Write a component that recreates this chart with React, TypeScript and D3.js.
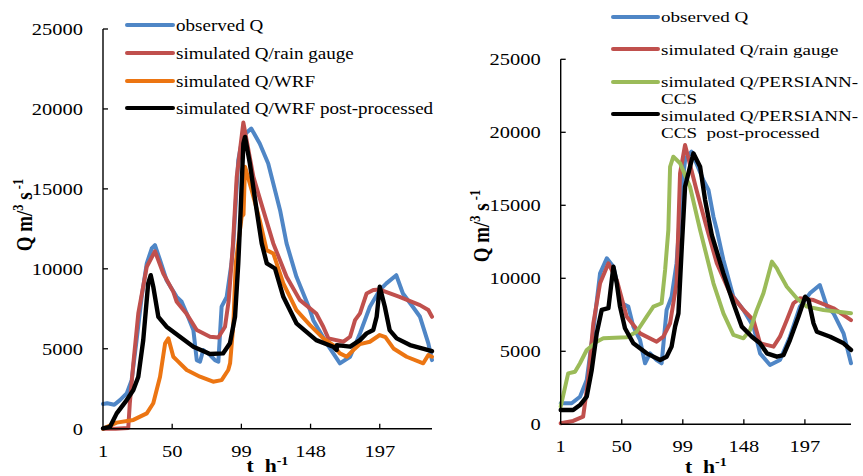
import React from "react";
import * as d3 from "d3";

type Pt = [number, number];

const xTicks = [1, 50, 99, 148, 197];
const yTicks = [0, 5000, 10000, 15000, 20000, 25000];

// ---- Left panel (WRF) ----
const leftObserved: Pt[] = [
  [1, 1550], [4, 1590], [9, 1500], [13, 1790], [17.8, 2210], [21.3, 3040], [24.8, 5540], [28.4, 8250],
  [32, 10340], [35.5, 11270], [37.8, 11480], [41.4, 10540], [46, 9290], [53.2, 8250], [56.7, 7940],
  [60.3, 7210], [65, 6170], [67.4, 4290], [69.7, 4190], [72, 4920], [76.8, 4610], [80.3, 4290],
  [82.7, 4190], [85, 7630], [88.6, 8250], [92, 10340], [93.3, 11600], [96.8, 16800], [100, 18300],
  [106, 18770], [112, 17840], [118, 16590], [122, 15200], [126.4, 13670], [131, 11590], [138, 9500],
  [147.6, 7420], [149.9, 6790], [159.4, 5340], [168.8, 4090], [176, 4500], [183, 5960], [190, 7630],
  [197, 8670], [201.7, 9090], [208.7, 9600], [213.4, 8460], [220.4, 7630], [225.5, 7000], [231.4, 5340],
  [234, 4290],
];
const leftGauge: Pt[] = [
  [1, 0], [10, 0], [18.9, 50], [20, 1600], [22.5, 4090], [26, 7210], [32, 10130], [37.8, 11100],
  [43.7, 9710], [50.8, 8560], [53.2, 7940], [60, 7210], [67.4, 6170], [76.8, 5750], [82.7, 5700],
  [87.4, 6380], [90, 8000], [93, 11500], [95.7, 15750], [100.4, 19150], [107.5, 15750], [114.5, 13670],
  [121.6, 11590], [131, 9500], [140.5, 8040], [152, 7210], [157, 6380], [160.6, 5650], [171.3, 5440],
  [176, 5750], [179.5, 6790], [183, 7210], [187.7, 8460], [192.4, 8670], [197, 8700], [211, 8250],
  [225.5, 7730], [231.4, 7420], [234, 7000],
];
const leftWRF: Pt[] = [
  [1, 0], [10.7, 380], [22.5, 550], [32, 960], [36.6, 1590], [41.4, 3250], [45, 5340], [47.3, 5650],
  [50.8, 4500], [53.2, 4290], [60.3, 3670], [69.7, 3250], [79, 2940], [85, 3040], [89.7, 3670],
  [91, 4090], [93.3, 6500], [95, 10340], [99.2, 13250], [100.5, 13400], [101.6, 16380], [106.3, 14920],
  [112, 13040], [116.9, 11170], [121.6, 10960], [128.7, 9090], [138, 7420], [147.6, 6480], [157, 5650],
  [164, 5230], [168.8, 4710], [173.6, 4500], [178.3, 4920], [183, 5290], [190, 5440], [197, 5860],
  [201, 5730], [206.7, 5020], [216, 4500], [227.8, 4090], [231.4, 4610], [234, 4500],
];
const leftWRFpp: Pt[] = [
  [1, 20], [6, 120], [10.7, 960], [17.8, 1790], [22.5, 2420], [26, 3250], [29.5, 5540], [33, 9090],
  [34.8, 9600], [36.6, 8880], [40.2, 7000], [46, 6380], [55.5, 5750], [65, 5130], [76.8, 4670],
  [86, 4710], [90.9, 5340], [94.5, 7000], [96.8, 10340], [98.5, 13670], [100.4, 17840], [101.6, 18250],
  [105, 16590], [109.8, 13670], [113.4, 11590], [117, 10340], [122.8, 10020], [128.7, 8250],
  [138, 6590], [152, 5540], [164, 5130], [166.5, 4920], [166.6, 5230], [176, 5130], [183, 5540],
  [187.7, 5960], [192.4, 6170], [194.8, 7000], [197, 8880], [200.6, 7630], [204, 6170], [209, 5650],
  [218.4, 5230], [234, 4850],
];

// ---- Right panel (PERSIANN-CCS) ----
const rightObserved: Pt[] = [
  [1, 1440], [9.8, 1440], [16.5, 1890], [21.9, 3030], [27.2, 6460], [32.6, 10340], [38, 11370],
  [43.3, 10800], [50, 8290], [55.3, 8060], [59.3, 6690], [64.7, 5770], [68.7, 4180], [72.7, 4860],
  [78, 4400], [82, 4180], [86, 7830], [90, 8740], [94, 11030], [98, 16000], [101, 18200], [106, 18670],
  [115.5, 16730], [119.6, 16050], [123.6, 14220], [126.3, 13310], [131.6, 11250], [139.6, 8740],
  [147.7, 7830], [155.7, 6690], [161, 4860], [169, 4060], [177, 4400], [185, 6000], [193, 8060],
  [201, 8970], [209, 9540], [214.7, 8060], [220, 7600], [228, 6230], [234, 4180],
];
const rightGauge: Pt[] = [
  [1, 70], [11, 230], [19, 520], [23, 3030], [27.2, 6920], [32.6, 9660], [39.3, 11030], [46, 9880],
  [54, 7370], [64.7, 6230], [78, 5660], [83.4, 6000], [88.8, 6920], [94, 9660], [96.8, 17190],
  [100.8, 19130], [110, 16050], [118, 13530], [126.3, 11030], [137, 8970], [147.7, 7830],
  [155.7, 7140], [161, 5550], [171.8, 5320], [177, 6000], [182.5, 7140], [187.8, 8290], [193, 8630],
  [203.9, 8510], [220, 7950], [234, 7140],
];
const rightPersiann: Pt[] = [
  [1, 1210], [7, 3490], [12.5, 3600], [16.5, 4180], [21.9, 5090], [29.9, 5660], [35.2, 5890],
  [54, 5960], [62, 6340], [70, 7370], [75.4, 8060], [82, 8290], [84.8, 10570], [87.4, 13310],
  [88.8, 17640], [91.4, 18330], [96.8, 17880], [104.8, 16270], [112.9, 13310], [118.3, 11480],
  [123.6, 9660], [131.6, 7600], [139.6, 6120], [147.7, 5890], [153, 6460], [158.4, 7830],
  [163.7, 8970], [170.5, 11140], [174.5, 10680], [176.5, 10340], [182.5, 9420], [190.5, 8630],
  [198.6, 8060], [211.9, 7830], [234, 7600],
];
const rightPersiannPP: Pt[] = [
  [1, 980], [11, 980], [16.5, 1320], [21.9, 1890], [25.9, 3720], [29.9, 6230], [33.9, 7830],
  [39.3, 7950], [42, 9880], [43.3, 10800], [46, 9660], [48.6, 8060], [52.6, 6580], [59.3, 5550],
  [70, 4860], [80.8, 4400], [86, 4630], [90, 5320], [92.8, 6690], [95.5, 7600], [98.2, 12160],
  [100.8, 16270], [107.5, 18560], [112.9, 17640], [116.9, 15360], [122.3, 12960], [131.6, 10340],
  [139.6, 8290], [146.4, 6690], [154.4, 6000], [161, 5550], [166.5, 4860], [174.5, 4630],
  [179.8, 4740], [185, 5770], [191.8, 7370], [197.2, 8740], [199.9, 8510], [203.9, 6920],
  [206.6, 6340], [217.3, 6000], [228, 5550], [234, 5090],
];

const BLUE = "#4F86C6";
const RED = "#C0504D";
const ORANGE = "#EC7512";
const GREEN = "#9BBB59";
const BLACK = "#000000";

const leftNames = [
  ["observed Q"],
  ["simulated Q/rain gauge"],
  ["simulated Q/WRF"],
  ["simulated Q/WRF post-processed"],
];
const rightNames = [
  ["observed Q"],
  ["simulated Q/rain gauge"],
  ["simulated Q/PERSIANN-", "CCS"],
  ["simulated Q/PERSIANN-", "CCS  post-processed"],
];

const FONT = "Liberation Serif, DejaVu Serif, serif";
const SX = 1.17;

function T(props: {
  x: number; y: number; size: number; anchor?: string; bold?: boolean; sx?: number; children: React.ReactNode;
}) {
  const { x, y, size, anchor = "start", bold = false, sx = SX, children } = props;
  return (
    <g transform={`translate(${x},${y}) scale(${sx},1)`}>
      <text
        textAnchor={anchor as any}
        fill="#000"
        style={{ fontFamily: FONT, fontSize: size + "px", fontWeight: bold ? 700 : 400, whiteSpace: "pre" }}
      >
        {children}
      </text>
    </g>
  );
}

type Series = { data: Pt[]; color: string; width: number };

type PanelProps = {
  xLeft: number; xRight: number; yBottom: number; yTop: number;
  series: Series[];
  names: string[][];
  legendX0: number; legendX1: number; legendRows: number[]; legendBaselines: number[][];
  legendSize: number; legendSx: number;
  xLabelBaseline: number; xTitleBaseline: number;
  yTitleX: number; yTitleY: number;
};

function Panel(p: PanelProps) {
  const x = d3.scaleLinear().domain([1, 234]).range([p.xLeft, p.xRight]);
  const y = d3.scaleLinear().domain([0, 25000]).range([p.yBottom, p.yTop]);
  const line = d3.line<Pt>().x((d) => x(d[0])).y((d) => y(d[1])).curve(d3.curveLinear);
  return (
    <g>
      {p.series.map((s, i) => (
        <path key={i} d={line(s.data) || ""} fill="none" stroke={s.color} strokeWidth={s.width}
          strokeLinejoin="round" strokeLinecap="round" />
      ))}
      {/* axes */}
      <line x1={p.xLeft} x2={p.xLeft} y1={y(25000)} y2={y(0)} stroke="#000" strokeWidth={1.4} />
      <line x1={p.xLeft} x2={p.xRight} y1={y(0)} y2={y(0)} stroke="#000" strokeWidth={1.4} />
      {yTicks.map((v) => (
        <g key={v}>
          {v > 0 && <line x1={p.xLeft} x2={p.xLeft + 5} y1={y(v)} y2={y(v)} stroke="#000" strokeWidth={1.3} />}
          <T x={p.xLeft - 20} y={y(v) + 6} size={17.5} anchor="end">{String(v)}</T>
        </g>
      ))}
      {xTicks.map((v) => (
        <g key={v}>
          {v > 1 && <line x1={x(v)} x2={x(v)} y1={y(0)} y2={y(0) - 5} stroke="#000" strokeWidth={1.3} />}
          <T x={x(v)} y={p.xLabelBaseline} size={17.5} anchor="middle">{String(v)}</T>
        </g>
      ))}
      <T x={(p.xLeft + p.xRight) / 2} y={p.xTitleBaseline} size={18.5} anchor="middle" bold>
        <tspan>{"t  h"}</tspan>
        <tspan style={{ fontSize: "12px" }} dy={-7}>-1</tspan>
      </T>
      <g transform={`translate(${p.yTitleX},${p.yTitleY}) scale(${SX},1) rotate(-90)`}>
        <text textAnchor="middle" fill="#000"
          style={{ fontFamily: FONT, fontSize: "19px", fontWeight: 700, whiteSpace: "pre" }}>
          <tspan>Q m/</tspan>
          <tspan style={{ fontSize: "12.5px" }} dy={-8}>3</tspan>
          <tspan dy={8}> s</tspan>
          <tspan style={{ fontSize: "12.5px" }} dy={-8}> -1</tspan>
        </text>
      </g>
      {/* legend */}
      {p.series.map((s, i) => (
        <g key={"lg" + i}>
          <line x1={p.legendX0} x2={p.legendX1} y1={p.legendRows[i]} y2={p.legendRows[i]}
            stroke={s.color} strokeWidth={4} strokeLinecap="round" />
          {p.names[i].map((t, j) => (
            <T key={j} x={p.legendX1 + 3} y={p.legendBaselines[i][j]} size={p.legendSize} sx={p.legendSx}>{t}</T>
          ))}
        </g>
      ))}
    </g>
  );
}

export default function App() {
  return (
    <svg width={863} height={476} style={{ position: "absolute", left: 0, top: 0, background: "#fff" }}>
      <rect x={0} y={0} width={863} height={476} fill="#fff" />
      <Panel
        xLeft={103} xRight={432} yBottom={428.7} yTop={29}
        series={[
          { data: leftObserved, color: BLUE, width: 4 },
          { data: leftGauge, color: RED, width: 4 },
          { data: leftWRF, color: ORANGE, width: 4 },
          { data: leftWRFpp, color: BLACK, width: 4.4 },
        ]}
        names={leftNames}
        legendX0={127} legendX1={173} legendRows={[25, 53, 81, 108]}
        legendBaselines={[[30.5], [58.5], [86.5], [113.5]]}
        legendSize={16.3} legendSx={1.17}
        xLabelBaseline={457} xTitleBaseline={472}
        yTitleX={32} yTitleY={215}
      />
      <Panel
        xLeft={560.7} xRight={851} yBottom={424.3} yTop={59.3}
        series={[
          { data: rightObserved, color: BLUE, width: 4 },
          { data: rightGauge, color: RED, width: 4 },
          { data: rightPersiann, color: GREEN, width: 4 },
          { data: rightPersiannPP, color: BLACK, width: 4.4 },
        ]}
        names={rightNames}
        legendX0={613} legendX1={658} legendRows={[17, 49, 82, 114]}
        legendBaselines={[[22], [54.5], [86.8, 103.8], [120.5, 137.5]]}
        legendSize={15} legendSx={1.27}
        xLabelBaseline={452} xTitleBaseline={472.5}
        yTitleX={489} yTitleY={226}
      />
    </svg>
  );
}
